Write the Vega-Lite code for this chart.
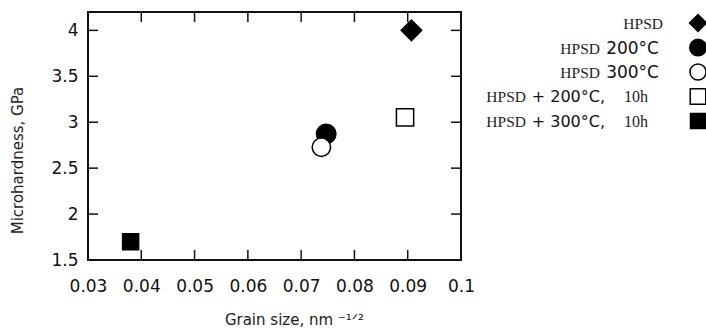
{
  "$schema": "https://vega.github.io/schema/vega-lite/v6.json",
  "padding": {"left": 9, "top": 11, "right": 0, "bottom": 0},
  "background": "white",
  "spacing": 10,
  "resolve": {"scale": {"size": "independent"}},
  "datasets": {
    "points": [
      {"series": "HPSD", "x": 0.0907, "y": 4.0},
      {"series": "HPSD 200°C", "x": 0.0747, "y": 2.873},
      {"series": "HPSD 300°C", "x": 0.0738, "y": 2.728},
      {"series": "HPSD + 200°C, 10h", "x": 0.0895, "y": 3.053},
      {"series": "HPSD + 300°C, 10h", "x": 0.038, "y": 1.698}
    ],
    "xticks": [{"t": 0.04}, {"t": 0.05}, {"t": 0.06}, {"t": 0.07}, {"t": 0.08}, {"t": 0.09}],
    "yticks": [{"t": 2}, {"t": 2.5}, {"t": 3}, {"t": 3.5}, {"t": 4}]
  },
  "config": {
    "font": "DejaVu Sans",
    "axis": {
      "domain": false,
      "ticks": false,
      "grid": false,
      "labelFont": "DejaVu Sans",
      "labelFontSize": 17,
      "labelColor": "#111",
      "labelOverlap": false,
      "labelFlush": false,
      "titleFont": "DejaVu Sans",
      "titleFontSize": 15,
      "titleFontWeight": "normal",
      "titleColor": "#222"
    }
  },
  "hconcat": [
    {
      "width": 373,
      "height": 248,
      "view": {"stroke": "#111", "strokeWidth": 2},
      "layer": [
        {
          "data": {"name": "points"},
          "mark": {"type": "point", "filled": true, "stroke": "#000", "strokeWidth": 1.5, "opacity": 1},
          "encoding": {
            "x": {
              "field": "x", "type": "quantitative",
              "scale": {"domain": [0.03, 0.1], "nice": false, "zero": false},
              "axis": {
                "orient": "bottom",
                "values": [0.03, 0.04, 0.05, 0.06, 0.07, 0.08, 0.09, 0.1],
                "format": "~g",
                "labelPadding": 18,
                "title": "Grain size, nm ⁻¹ᐟ²",
                "titleX": 206,
                "titleY": 59,
                "titleBaseline": "middle",
                "titleAlign": "center"
              }
            },
            "y": {
              "field": "y", "type": "quantitative",
              "scale": {"domain": [1.5, 4.2], "nice": false, "zero": false},
              "axis": {
                "orient": "left",
                "values": [1.5, 2, 2.5, 3, 3.5, 4],
                "format": "~g",
                "labelPadding": 10,
                "title": "Microhardness, GPa",
                "titleX": -71,
                "titleY": 148,
                "titleAngle": -90,
                "titleBaseline": "middle",
                "titleAlign": "center"
              }
            },
            "shape": {
              "field": "series", "type": "nominal",
              "scale": {
                "domain": ["HPSD", "HPSD 200°C", "HPSD 300°C", "HPSD + 200°C, 10h", "HPSD + 300°C, 10h"],
                "range": ["diamond", "circle", "circle", "square", "square"]
              },
              "legend": null
            },
            "fill": {
              "field": "series", "type": "nominal",
              "scale": {
                "domain": ["HPSD", "HPSD 200°C", "HPSD 300°C", "HPSD + 200°C, 10h", "HPSD + 300°C, 10h"],
                "range": ["#000", "#000", "#fff", "#fff", "#000"]
              },
              "legend": null
            },
            "size": {
              "field": "series", "type": "nominal",
              "scale": {
                "domain": ["HPSD", "HPSD 200°C", "HPSD 300°C", "HPSD + 200°C, 10h", "HPSD + 300°C, 10h"],
                "range": [420, 256, 190, 170, 190]
              },
              "legend": null
            }
          }
        },
        {
          "data": {"name": "xticks"},
          "mark": {"type": "tick", "orient": "vertical", "size": 10, "thickness": 1.5, "color": "#111", "opacity": 1, "yOffset": -5},
          "encoding": {
            "x": {"field": "t", "type": "quantitative"},
            "y": {"datum": 1.5, "type": "quantitative"}
          }
        },
        {
          "data": {"name": "xticks"},
          "mark": {"type": "tick", "orient": "vertical", "size": 10, "thickness": 1.5, "color": "#111", "opacity": 1, "yOffset": 5},
          "encoding": {
            "x": {"field": "t", "type": "quantitative"},
            "y": {"datum": 4.2, "type": "quantitative"}
          }
        },
        {
          "data": {"name": "yticks"},
          "mark": {"type": "tick", "orient": "horizontal", "size": 10, "thickness": 1.5, "color": "#111", "opacity": 1, "xOffset": 5},
          "encoding": {
            "y": {"field": "t", "type": "quantitative"},
            "x": {"datum": 0.03, "type": "quantitative"}
          }
        },
        {
          "data": {"name": "yticks"},
          "mark": {"type": "tick", "orient": "horizontal", "size": 10, "thickness": 1.5, "color": "#111", "opacity": 1, "xOffset": -5},
          "encoding": {
            "y": {"field": "t", "type": "quantitative"},
            "x": {"datum": 0.1, "type": "quantitative"}
          }
        }
      ]
    },
    {
      "width": 211,
      "height": 120,
      "view": {"stroke": null},
      "data": {
        "values": [
          {"series": "HPSD", "a": "HPSD", "b": "", "c": "", "grp": 1},
          {"series": "HPSD 200°C", "a": "HPSD", "b": "200°C", "c": "", "grp": 2},
          {"series": "HPSD 300°C", "a": "HPSD", "b": "300°C", "c": "", "grp": 2},
          {"series": "HPSD + 200°C, 10h", "a": "HPSD", "b": "+ 200°C,", "c": "10h", "grp": 3},
          {"series": "HPSD + 300°C, 10h", "a": "HPSD", "b": "+ 300°C,", "c": "10h", "grp": 3}
        ]
      },
      "encoding": {
        "x": {"datum": 1, "type": "quantitative", "scale": {"domain": [0, 1]}, "axis": null},
        "y": {
          "field": "series", "type": "nominal",
          "scale": {"type": "point", "padding": 0.45, "domain": ["HPSD", "HPSD 200°C", "HPSD 300°C", "HPSD + 200°C, 10h", "HPSD + 300°C, 10h"]},
          "axis": null
        }
      },
      "layer": [
        {
          "mark": {"type": "point", "filled": true, "stroke": "#000", "strokeWidth": 1.5, "opacity": 1},
          "encoding": {
            "shape": {"field": "series", "type": "nominal", "legend": null},
            "fill": {"field": "series", "type": "nominal", "legend": null},
            "size": {
              "field": "series", "type": "nominal",
              "scale": {
                "domain": ["HPSD", "HPSD 200°C", "HPSD 300°C", "HPSD + 200°C, 10h", "HPSD + 300°C, 10h"],
                "range": [290, 225, 170, 160, 170]
              },
              "legend": null
            }
          }
        },
        {
          "transform": [{"filter": "datum.grp == 1"}],
          "mark": {"type": "text", "align": "right", "baseline": "alphabetic", "dx": -35, "dy": 6, "font": "Liberation Serif", "fontSize": 15.5, "color": "#222"},
          "encoding": {"text": {"field": "a"}}
        },
        {
          "transform": [{"filter": "datum.grp == 2"}],
          "mark": {"type": "text", "align": "right", "baseline": "alphabetic", "dx": -39, "dy": 6, "font": "DejaVu Sans", "fontSize": 17, "color": "#111"},
          "encoding": {"text": {"field": "b"}}
        },
        {
          "transform": [{"filter": "datum.grp == 2"}],
          "mark": {"type": "text", "align": "right", "baseline": "alphabetic", "dx": -98, "dy": 6, "font": "Liberation Serif", "fontSize": 15.5, "color": "#222"},
          "encoding": {"text": {"field": "a"}}
        },
        {
          "transform": [{"filter": "datum.grp == 3"}],
          "mark": {"type": "text", "align": "right", "baseline": "alphabetic", "dx": -50, "dy": 6, "font": "Liberation Serif", "fontSize": 16, "color": "#222"},
          "encoding": {"text": {"field": "c"}}
        },
        {
          "transform": [{"filter": "datum.grp == 3"}],
          "mark": {"type": "text", "align": "right", "baseline": "alphabetic", "dx": -93, "dy": 6, "font": "DejaVu Sans", "fontSize": 16, "color": "#111"},
          "encoding": {"text": {"field": "b"}}
        },
        {
          "transform": [{"filter": "datum.grp == 3"}],
          "mark": {"type": "text", "align": "right", "baseline": "alphabetic", "dx": -172, "dy": 6, "font": "Liberation Serif", "fontSize": 15.5, "color": "#222"},
          "encoding": {"text": {"field": "a"}}
        }
      ]
    }
  ]
}
